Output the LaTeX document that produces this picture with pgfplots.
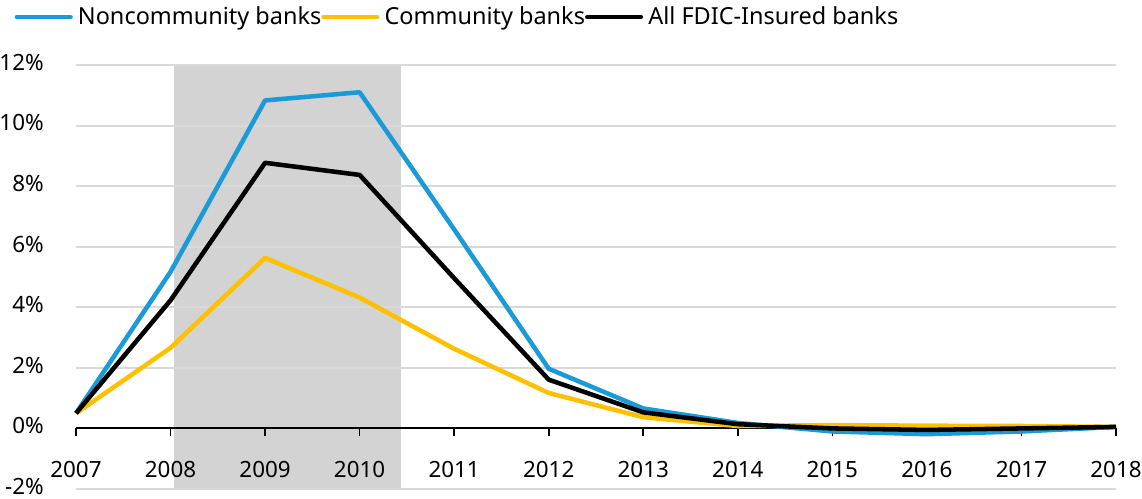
\documentclass[border=0pt]{standalone}
\usepackage{fontspec}
\setmainfont{Noto Sans}
\usepackage{pgfplots}
\pgfplotsset{compat=1.18}
\definecolor{cblue}{HTML}{1A9AD6}
\definecolor{cyel}{HTML}{FFC000}
\definecolor{shade}{HTML}{D3D3D3}
\definecolor{gridc}{HTML}{D9D9D9}
\begin{document}
\begin{tikzpicture}
\begin{axis}[name=ax, set layers, scale only axis, width=780pt, height=318pt,
  xmin=2007, xmax=2018, ymin=-2, ymax=12,
  axis x line=middle, axis y line=left,
  hide obscured x ticks=false, hide obscured y ticks=false,
  x axis line style={-, black, line width=1.5pt},
  y axis line style={draw=none},
  xtick={2007,2008,...,2018}, ytick={-2,0,...,12},
  /pgf/number format/assume math mode=true,
  xticklabel={\pgfmathprintnumber[1000 sep={}]{\tick}},
  yticklabel={\pgfmathprintnumber{\tick}\%},
  ymajorgrids, grid style={gridc, line width=1.5pt},
  tick align=outside, major tick length=6pt,
  xtick style={black, line width=1.2pt},
  ytick style={draw=none},
  tick label style={font=\fontsize{16.8}{19}\selectfont, inner sep=0pt},
  xticklabel style={anchor=north, yshift=-18.5pt},
  yticklabel style={anchor=east, xshift=-18pt, yshift=2pt},
  clip=false,
  legend columns=3,
  legend style={draw=none, fill=none, inner sep=0pt, outer sep=0pt,
    at={(-0.059,1.113)}, anchor=west,
    font=\fontsize{17.6}{21}\selectfont,
    nodes={inner sep=0pt}},
  legend image code/.code={\draw[#1, line width=3.6pt, line cap=round] (0pt,0pt) -- (40pt,0pt); \path (44pt,0pt);},
]
\addplot[fill=shade, draw=none, on layer=axis background, forget plot]
  coordinates {(2008.04,-2) (2008.04,12) (2010.44,12) (2010.44,-2)};
\addplot[cblue, line width=3.4pt, line join=round] coordinates {
 (2007,0.5) (2008,5.17) (2009,10.83) (2010,11.1) (2011,6.57) (2012,1.97)
 (2013,0.66) (2014,0.18) (2015,-0.1) (2016,-0.19) (2017,-0.1) (2018,0.05)};
\addlegendentry{Noncommunity banks\hspace{10pt}}
\addplot[cyel, line width=3.4pt, line join=round] coordinates {
 (2007,0.5) (2008,2.66) (2009,5.63) (2010,4.32) (2011,2.63) (2012,1.17)
 (2013,0.37) (2014,0.08) (2015,0.11) (2016,0.09) (2017,0.08) (2018,0.05)};
\addlegendentry{Community banks\hspace{7pt}}
\addplot[black, line width=3.4pt, line join=round] coordinates {
 (2007,0.5) (2008,4.23) (2009,8.77) (2010,8.37) (2011,4.96) (2012,1.61)
 (2013,0.53) (2014,0.14) (2015,0.0) (2016,-0.05) (2017,0.0) (2018,0.05)};
\addlegendentry{All FDIC-Insured banks}
\end{axis}
\pgfresetboundingbox
\path ([shift={(-57pt,-7.5pt)}]ax.south west) rectangle ([shift={(19.5pt,48.75pt)}]ax.north east);
\end{tikzpicture}
\end{document}
